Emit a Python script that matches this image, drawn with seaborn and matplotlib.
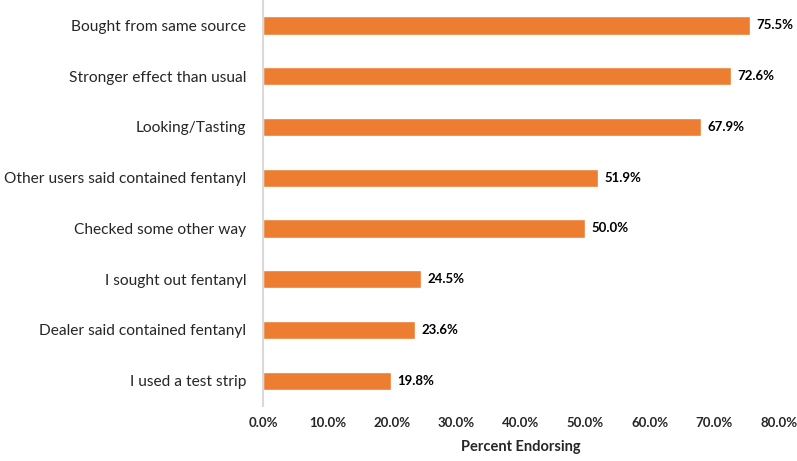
import numpy as np
import pandas as pd
import matplotlib
matplotlib.use('Agg')
import matplotlib.pyplot as plt
import seaborn as sns

## ============================

categories = ['Bought from same source', 'Stronger effect than usual', 'Looking/Tasting',
              'Other users said contained fentanyl', 'Checked some other way',
              'I sought out fentanyl', 'Dealer said contained fentanyl', 'I used a test strip']
percents = [75.5, 72.6, 67.9, 51.9, 50.0, 24.5, 23.6, 19.8]
xticks = [0, 10, 20, 30, 40, 50, 60, 70, 80]

df = pd.DataFrame({'category': categories, 'percent': percents})

## ============================

sns.set_style('white')
plt.rcParams['font.family'] = ['Lato', 'DejaVu Sans']

fig = plt.figure(figsize=(7.97, 4.61), dpi=100)
ax = fig.add_axes([0.330, 0.119, 0.647, 0.881])

sns.barplot(ax=ax, data=df, x='percent', y='category', color='#ED7D31',
            saturation=1, width=0.36, orient='h')

for i, v in enumerate(percents):
    ax.text(v + 1.0, i, '{0:.1f}%'.format(v), ha='left', va='center',
            fontsize=9.5, fontweight='bold', color='black')

ax.set_xlim(0, 80)
ax.set_ylim(7.5, -0.5)
ax.set_xticks(xticks)
ax.set_xticklabels(['{0:.1f}%'.format(t) for t in xticks], fontsize=9.5, fontweight='bold')
ax.tick_params(axis='y', labelsize=11.2, length=0, pad=12)
ax.tick_params(axis='x', length=0, pad=8)
ax.set_ylabel('')
ax.set_xlabel('Percent Endorsing', fontsize=10.5, fontweight='bold', labelpad=8)

sns.despine(ax=ax, top=True, right=True, bottom=True)
ax.spines['left'].set_color('#D9D9D9')
ax.spines['left'].set_linewidth(1.5)

fig.savefig('out.png', dpi=100)
